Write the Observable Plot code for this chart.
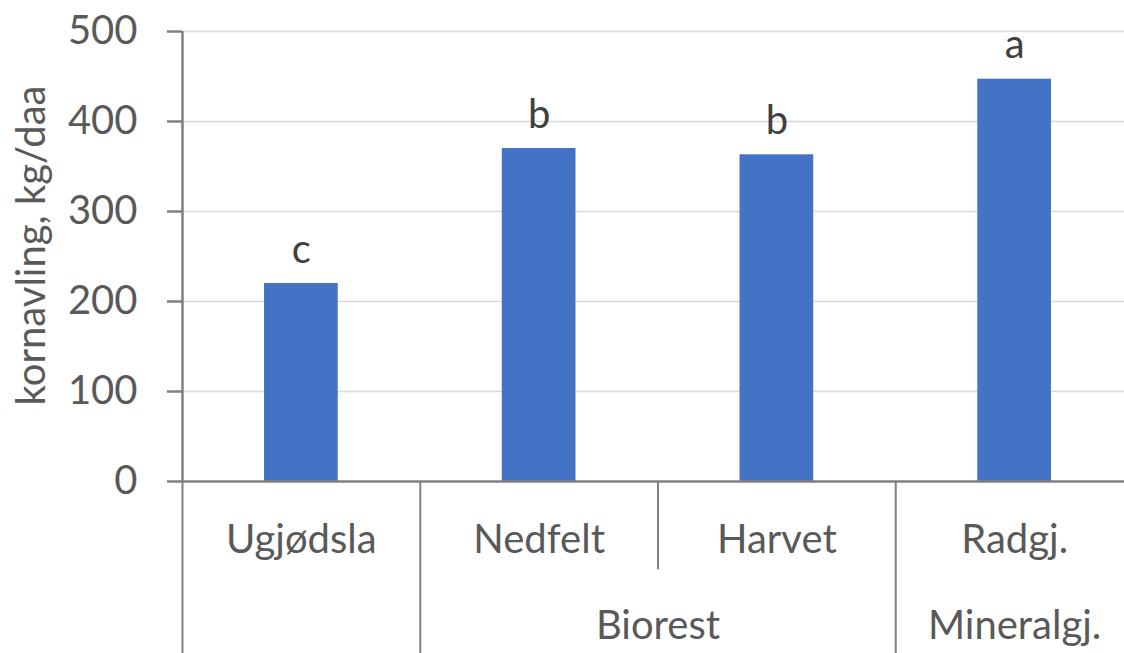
<!DOCTYPE html>
<html><head><meta charset="utf-8">
<script src="https://cdn.jsdelivr.net/npm/d3@7"></script>
<script src="https://cdn.jsdelivr.net/npm/@observablehq/plot@0.6"></script>
<style>html,body{margin:0;padding:0;background:#fff;overflow:hidden;}
svg{overflow:hidden;}</style>
</head><body><div id="chart"></div>
<script>
const categories = ["Ugjødsla", "Nedfelt", "Harvet", "Radgj."];
const values = [220, 370, 363, 447];
const letters = ["c", "b", "b", "a"];
const groups = ["", "Biorest", "Mineralgj."];
const groupStart = [0, 1, 3];
const groupEnd = [1, 3, 4];
const yTicks = [0, 100, 200, 300, 400, 500];
const yTitle = "kornavling, kg/daa";

const bars = categories.map((c, i) => ({cat: c, pos: i + 0.5, value: values[i], letter: letters[i]}));
const grp = groups.map((g, i) => ({label: g, mid: (groupStart[i] + groupEnd[i]) / 2}));
const outerDividers = [...new Set([...groupStart, ...groupEnd])];
const innerDividers = d3.range(1, categories.length).filter(d => !outerDividers.includes(d));

const half = 0.155; // half bar width as fraction of category band
const FONT = "Lato, 'Open Sans', sans-serif";
const FS = 40;
const axisGray = "#808080";
const textGray = "#595959";

const chart = Plot.plot({
  width: 1124,
  height: 653,
  marginTop: 31,
  marginBottom: 172,
  marginLeft: 182,
  marginRight: 0,
  style: {fontFamily: FONT, background: "#fff", overflow: "hidden"},
  x: {domain: [0, categories.length], range: [182, 1133], axis: null},
  y: {domain: [0, 500], axis: null},
  marks: [
    Plot.ruleY(yTicks.filter(d => d > 0), {stroke: "#d9d9d9", strokeWidth: 1.5}),
    Plot.rectY(bars, {x1: d => d.pos - half, x2: d => d.pos + half, y1: 0, y2: "value", fill: "#4472C4"}),
    Plot.text(bars, {x: "pos", y: "value", text: "letter", lineAnchor: "bottom", dy: -21, fontSize: FS, fill: "#404040"}),
    Plot.ruleY([0], {stroke: axisGray, strokeWidth: 2.5}),
    Plot.axisY({ticks: yTicks, tickSize: 15, tickPadding: 30, fontSize: FS, stroke: axisGray, strokeWidth: 2.5, fill: textGray, label: null}),
    Plot.ruleX([0], {y1: 500, y2: 0, stroke: axisGray, strokeWidth: 2.5}),
    Plot.ruleX(outerDividers, {x: d => d, y1: 0, y2: -192, stroke: axisGray, strokeWidth: 2}),
    Plot.ruleX(innerDividers, {x: d => d, y1: 0, y2: -98, stroke: axisGray, strokeWidth: 2}),
    Plot.text(bars, {x: "pos", text: "cat", frameAnchor: "bottom", dy: 71, fontSize: FS, fill: textGray}),
    Plot.text(grp, {x: "mid", text: "label", frameAnchor: "bottom", dy: 157, fontSize: FS, fill: textGray}),
    Plot.text([yTitle], {text: d => d, frameAnchor: "left", textAnchor: "middle", rotate: -90, dx: -150, dy: -11, fontSize: FS, fill: textGray})
  ]
});
document.getElementById("chart").appendChild(chart);
</script>
</body></html>
